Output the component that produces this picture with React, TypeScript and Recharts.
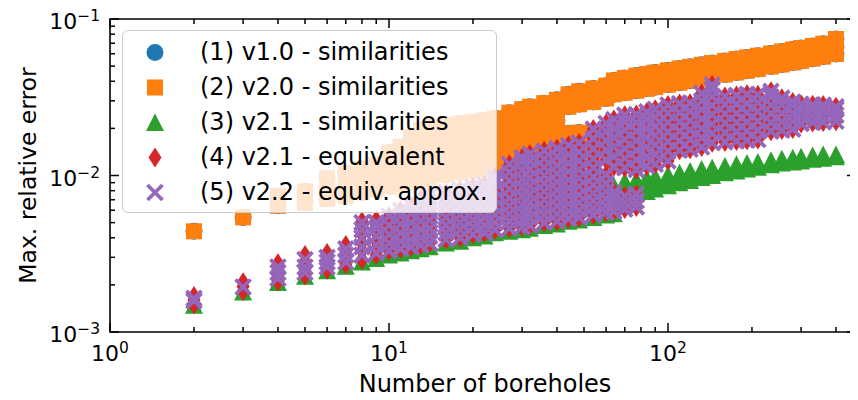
import React from "react";
import { ScatterChart, Scatter, XAxis, YAxis, Legend, ReferenceArea } from "recharts";

type Col = [number, number[]];
type Kind = "circle" | "square" | "triangle" | "diamond" | "cross";

// max. relative error, one column per number of boreholes
const simV20: Col[] = [
  [2, [0.0044]],
  [3, [0.0054]],
  [4, [0.0064, 0.0074]],
  [5, [0.0067, 0.0079]],
  [6, [0.0071, 0.0084, 0.0096]],
  [7, [0.0074, 0.0088, 0.0103]],
  [8, [0.0078, 0.0093, 0.011]],
  [9, [0.0081, 0.0097, 0.0117]],
  [10, [0.0085, 0.0102, 0.0122, 0.014]],
  [11, [0.0088, 0.0106, 0.0127, 0.0152]],
  [12, [0.0091, 0.011, 0.0132, 0.0158, 0.0175]],
  [13, [0.0094, 0.0113, 0.0136, 0.0163, 0.0195]],
  [14, [0.0097, 0.0116, 0.014, 0.0168, 0.0205]],
  [16, [0.0101, 0.0121, 0.0145, 0.0174, 0.021]],
  [18, [0.0105, 0.0125, 0.015, 0.018, 0.0215]],
  [20, [0.0108, 0.0129, 0.0155, 0.0186, 0.022]],
  [22, [0.0111, 0.0133, 0.016, 0.019, 0.0225]],
  [24, [0.0114, 0.0136, 0.0163, 0.0195, 0.0232]],
  [27, [0.0118, 0.014, 0.0168, 0.02, 0.0238, 0.0252]],
  [30, [0.0122, 0.0145, 0.0173, 0.0206, 0.0245, 0.0265]],
  [32, [0.0125, 0.0148, 0.0177, 0.021, 0.025, 0.0275]],
  [36, [0.013, 0.0154, 0.0183, 0.0217, 0.0257, 0.029]],
  [40, [0.0135, 0.016, 0.019, 0.0224, 0.0265, 0.0305]],
  [44, [0.014, 0.0162, 0.0186, 0.0275, 0.033]],
  [48, [0.0145, 0.0167, 0.0188, 0.0285, 0.0345]],
  [54, [0.015, 0.0172, 0.0188, 0.0295, 0.036]],
  [60, [0.0155, 0.0175, 0.0188, 0.031, 0.0375]],
  [64, [0.033, 0.0365, 0.0405]],
  [70, [0.0338, 0.038, 0.042]],
  [77, [0.0348, 0.039, 0.0435]],
  [84, [0.0358, 0.04, 0.0445]],
  [90, [0.0367, 0.041, 0.0455]],
  [100, [0.038, 0.0423, 0.047]],
  [110, [0.0392, 0.0436, 0.0483]],
  [120, [0.0403, 0.0448, 0.0495]],
  [132, [0.0415, 0.046, 0.051]],
  [144, [0.0427, 0.0473, 0.0523]],
  [160, [0.0442, 0.0488, 0.054]],
  [176, [0.0455, 0.0502, 0.0555]],
  [192, [0.0467, 0.0515, 0.0568]],
  [210, [0.048, 0.053, 0.0583]],
  [234, [0.0497, 0.0547, 0.0602]],
  [256, [0.0512, 0.0563, 0.062]],
  [280, [0.0527, 0.058, 0.0638]],
  [300, [0.054, 0.0593, 0.0652]],
  [330, [0.0558, 0.0612, 0.0673]],
  [360, [0.0575, 0.063, 0.0695]],
  [400, [0.0598, 0.066, 0.0745]],
];

// v1.0 gives the same errors as v2.0 (blue sits under the orange squares)
const simV10: Col[] = simV20;

const simV21: Col[] = [
  [2, [0.00148]],
  [3, [0.0018]],
  [4, [0.00207]],
  [5, [0.00227]],
  [6, [0.00246]],
  [7, [0.00263]],
  [8, [0.0028]],
  [9, [0.00295]],
  [10, [0.0031]],
  [11, [0.0032]],
  [12, [0.0033]],
  [13, [0.0034]],
  [14, [0.0035]],
  [16, [0.0037]],
  [18, [0.0038]],
  [20, [0.004]],
  [22, [0.0041]],
  [24, [0.0043]],
  [27, [0.0044]],
  [30, [0.0045]],
  [32, [0.0046]],
  [36, [0.0048]],
  [40, [0.0049]],
  [44, [0.0051]],
  [48, [0.0052]],
  [54, [0.0054]],
  [60, [0.0056, 0.0078]],
  [64, [0.0057, 0.0077, 0.0086]],
  [70, [0.0076, 0.0085, 0.0092]],
  [77, [0.0077, 0.0087, 0.0094]],
  [84, [0.0079, 0.0089, 0.0096]],
  [90, [0.0082, 0.0091, 0.0098]],
  [100, [0.0086, 0.0094, 0.0101]],
  [110, [0.009, 0.0098, 0.0104]],
  [120, [0.0093, 0.0101, 0.0107]],
  [132, [0.0097, 0.0104, 0.011]],
  [144, [0.01, 0.0107, 0.0112]],
  [160, [0.0104, 0.011, 0.0115]],
  [176, [0.0107, 0.0113, 0.0118]],
  [192, [0.011, 0.0116, 0.012]],
  [210, [0.0113, 0.0118, 0.0122]],
  [234, [0.0117, 0.0121, 0.0125]],
  [256, [0.012, 0.0124, 0.0128]],
  [280, [0.0122, 0.0127, 0.013]],
  [300, [0.0124, 0.0129, 0.0132]],
  [330, [0.0127, 0.0131, 0.0134]],
  [360, [0.0129, 0.0133, 0.0136]],
  [400, [0.0132, 0.0136]],
];

const equivSmall: Col[] = [
  [2, [0.0015, 0.0016, 0.0017]],
  [3, [0.00182, 0.00195, 0.00208]],
  [4, [0.0021, 0.0023, 0.0025, 0.00275]],
  [5, [0.0023, 0.0025, 0.0028, 0.0031]],
  [6, [0.0025, 0.0027, 0.0029, 0.0032]],
  [7, [0.0027, 0.0029, 0.0032, 0.0036]],
  [8, [0.0029, 0.0033, 0.0037, 0.0042, 0.0047, 0.0051]],
  [9, [0.0031, 0.0034, 0.0038, 0.0043, 0.0048, 0.0052]],
];

const approxSmall: Col[] = [
  [2, [0.00158, 0.00164]],
  [3, [0.00194]],
  [4, [0.0022, 0.0024, 0.0026]],
  [5, [0.0024, 0.0026, 0.0029]],
  [6, [0.0026, 0.0028, 0.003]],
  [7, [0.0028, 0.0031, 0.0034]],
  [8, [0.0031, 0.0035, 0.004, 0.0045, 0.005]],
  [9, [0.0032, 0.0036, 0.0041, 0.0046, 0.005]],
];

// N >= 10: equivalent and equiv. approx. overlap almost exactly
const equivCloud: Col[] = [
  [10, [0.0033, 0.0037, 0.0042, 0.0048, 0.0055]],
  [11, [0.0034, 0.0038, 0.0043, 0.0049, 0.0055, 0.006]],
  [12, [0.0035, 0.0039, 0.0044, 0.005, 0.0057, 0.0064]],
  [13, [0.0036, 0.004, 0.0045, 0.0051, 0.0058, 0.0066, 0.0071]],
  [14, [0.0037, 0.0041, 0.0046, 0.0052, 0.0059, 0.0067, 0.0074]],
  [16, [0.0039, 0.0043, 0.0048, 0.0054, 0.0061, 0.0069, 0.0078]],
  [18, [0.004, 0.0045, 0.005, 0.0056, 0.0063, 0.0071, 0.0081]],
  [20, [0.0042, 0.0047, 0.0052, 0.0058, 0.0065, 0.0074, 0.0085]],
  [22, [0.0043, 0.0048, 0.0054, 0.006, 0.0068, 0.0077, 0.0088]],
  [24, [0.0045, 0.005, 0.0056, 0.0063, 0.0071, 0.008, 0.0091, 0.0098]],
  [27, [0.0046, 0.0051, 0.0057, 0.0064, 0.0072, 0.0082, 0.0093, 0.0105, 0.0118]],
  [30, [0.0047, 0.0052, 0.0058, 0.0065, 0.0074, 0.0084, 0.0095, 0.0108, 0.0122, 0.013]],
  [32, [0.0048, 0.0054, 0.006, 0.0067, 0.0076, 0.0086, 0.0097, 0.011, 0.0124, 0.0137]],
  [36, [0.005, 0.0056, 0.0062, 0.007, 0.0079, 0.0089, 0.01, 0.0113, 0.0128, 0.0144]],
  [40, [0.0051, 0.0057, 0.0064, 0.0072, 0.0081, 0.0091, 0.0103, 0.0116, 0.0132, 0.0149]],
  [44, [0.0053, 0.0059, 0.0066, 0.0074, 0.0083, 0.0094, 0.0106, 0.012, 0.0136, 0.0156]],
  [48, [0.0054, 0.006, 0.0067, 0.0075, 0.0085, 0.0096, 0.0109, 0.0124, 0.0141, 0.0162]],
  [54, [0.0056, 0.0062, 0.0069, 0.0077, 0.0087, 0.0098, 0.0112, 0.0128, 0.0148, 0.0172, 0.0198]],
  [60, [0.0058, 0.0064, 0.0071, 0.0079, 0.0089, 0.0101, 0.0126, 0.0146, 0.0168, 0.0192, 0.0215]],
  [64, [0.0059, 0.0065, 0.0072, 0.0078, 0.0114, 0.0132, 0.0152, 0.0175, 0.02, 0.0228]],
  [70, [0.0061, 0.0067, 0.0074, 0.0112, 0.0129, 0.0148, 0.017, 0.0195, 0.022, 0.0243]],
  [77, [0.0063, 0.0069, 0.0076, 0.0109, 0.0126, 0.0145, 0.0167, 0.0192, 0.0218, 0.0245]],
  [84, [0.0115, 0.0132, 0.0152, 0.0175, 0.02, 0.0228, 0.0255]],
  [90, [0.0118, 0.0136, 0.0157, 0.018, 0.0206, 0.0235, 0.0265]],
  [100, [0.0124, 0.0143, 0.0165, 0.019, 0.0218, 0.025, 0.0282]],
  [110, [0.0145, 0.0167, 0.0192, 0.022, 0.0252, 0.0288]],
  [120, [0.0147, 0.017, 0.0195, 0.0224, 0.0257, 0.029]],
  [132, [0.0152, 0.0175, 0.02, 0.023, 0.0264, 0.03, 0.0335]],
  [144, [0.0162, 0.0186, 0.0213, 0.0245, 0.028, 0.032, 0.0355, 0.038]],
  [160, [0.0164, 0.0188, 0.0216, 0.0248, 0.0284, 0.032]],
  [176, [0.0166, 0.019, 0.0218, 0.025, 0.0286, 0.0325]],
  [192, [0.0168, 0.0192, 0.022, 0.0252, 0.0288, 0.033]],
  [210, [0.017, 0.0195, 0.0223, 0.0256, 0.0292, 0.0328]],
  [234, [0.0192, 0.0218, 0.0248, 0.0282, 0.0318, 0.0345]],
  [256, [0.0195, 0.022, 0.025, 0.0283, 0.0312]],
  [280, [0.0198, 0.0222, 0.025, 0.028, 0.0295]],
  [300, [0.0215, 0.0238, 0.0262, 0.0285]],
  [330, [0.0218, 0.024, 0.0263, 0.0283]],
  [360, [0.022, 0.0242, 0.0264, 0.0282]],
  [400, [0.0222, 0.0243, 0.0265, 0.0275]],
];

const xTicks = [1, 2, 3, 4, 5, 6, 7, 8, 9, 10, 20, 30, 40, 50, 60, 70, 80, 90, 100, 200, 300, 400];
const yTicks = [
  0.001, 0.002, 0.003, 0.004, 0.005, 0.006, 0.007, 0.008, 0.009,
  0.01, 0.02, 0.03, 0.04, 0.05, 0.06, 0.07, 0.08, 0.09, 0.1,
];

const X_MAX = 472;
const FONT = "'DejaVu Sans', sans-serif";

// layout (chart coordinates)
const W = 850;
const H = 392;
const PLOT_LEFT = 102;
const PLOT_RIGHT = 848;
const PLOT_TOP = 11;
const PLOT_BOTTOM = 324;

const toPoints = (cols: Col[]) => cols.flatMap(([n, errs]) => errs.map((err) => ({ n, err })));

const series: { name: string; cols: Col[]; color: string; kind: Kind }[] = [
  { name: "(1) v1.0 - similarities", cols: simV10, color: "#1f77b4", kind: "circle" },
  { name: "(2) v2.0 - similarities", cols: simV20, color: "#ff7f0e", kind: "square" },
  { name: "(3) v2.1 - similarities", cols: simV21, color: "#2ca02c", kind: "triangle" },
  { name: "(4) v2.1 - equivalent", cols: [...equivSmall, ...equivCloud], color: "#d62728", kind: "diamond" },
  { name: "(5) v2.2 - equiv. approx.", cols: [...approxSmall, ...equivCloud], color: "#9467bd", kind: "cross" },
];

const marker = (kind: Kind, cx: number, cy: number, color: string) => {
  switch (kind) {
    case "circle":
      return <circle cx={cx} cy={cy} r={8.5} fill={color} />;
    case "square":
      return <rect x={cx - 8} y={cy - 8} width={16} height={16} fill={color} />;
    case "triangle":
      return <polygon points={`${cx},${cy - 9} ${cx - 9},${cy + 8.5} ${cx + 9},${cy + 8.5}`} fill={color} />;
    case "diamond":
      return <polygon points={`${cx},${cy - 10} ${cx + 6.5},${cy} ${cx},${cy + 10} ${cx - 6.5},${cy}`} fill={color} />;
    default:
      return (
        <path
          d={`M${cx - 7.5},${cy - 7.5}L${cx + 7.5},${cy + 7.5}M${cx - 7.5},${cy + 7.5}L${cx + 7.5},${cy - 7.5}`}
          stroke={color}
          strokeWidth={3.7}
          fill="none"
        />
      );
  }
};

const isMajor = (v: number) => Math.abs(Math.log10(v) - Math.round(Math.log10(v))) < 1e-9;

const XTick = (props: any) => {
  const { x, payload } = props;
  const v = payload.value;
  const major = isMajor(v);
  const len = major ? 9 : 5;
  return (
    <g>
      <line x1={x} x2={x} y1={PLOT_BOTTOM} y2={PLOT_BOTTOM - len} stroke="#000" strokeWidth={1.5} />
      <line x1={x} x2={x} y1={PLOT_TOP} y2={PLOT_TOP + len} stroke="#000" strokeWidth={1.5} />
      {major && (
        <text x={x} y={PLOT_BOTTOM + 29} textAnchor="middle" fontSize={22} fontFamily={FONT} fill="#000">
          10
          <tspan dy={-8} fontSize={15.5}>
            {Math.round(Math.log10(v))}
          </tspan>
        </text>
      )}
    </g>
  );
};

const YTick = (props: any) => {
  const { y, payload } = props;
  const v = payload.value;
  const major = isMajor(v);
  const len = major ? 9 : 5;
  return (
    <g>
      <line x1={PLOT_LEFT} x2={PLOT_LEFT + len} y1={y} y2={y} stroke="#000" strokeWidth={1.5} />
      <line x1={PLOT_RIGHT} x2={PLOT_RIGHT - len} y1={y} y2={y} stroke="#000" strokeWidth={1.5} />
      {major && (
        <text x={PLOT_LEFT - 10} y={y + 10} textAnchor="end" fontSize={22} fontFamily={FONT} fill="#000">
          10
          <tspan dy={-8} fontSize={15.5}>
            {"\u2212" + Math.round(-Math.log10(v))}
          </tspan>
        </text>
      )}
    </g>
  );
};

const LegendBox = () => (
  <div
    style={{
      position: "relative",
      width: "100%",
      height: "100%",
      boxSizing: "border-box",
      border: "1.5px solid #cccccc",
      borderRadius: 6,
      background: "rgba(255,255,255,0.8)",
      fontFamily: FONT,
      fontSize: 24,
      color: "#000",
    }}
  >
    {series.map((s, i) => (
      <div key={s.name} style={{ position: "absolute", left: 0, top: 4 + i * 35, height: 35, width: "100%" }}>
        <svg width={30} height={35} style={{ position: "absolute", left: 17, top: 0 }}>
          {marker(s.kind, 15, 17.5, s.color)}
        </svg>
        <span style={{ position: "absolute", left: 77, top: 0, lineHeight: "35px", whiteSpace: "nowrap" }}>{s.name}</span>
      </div>
    ))}
  </div>
);

export default function App() {
  return (
    <ScatterChart width={W} height={H} margin={{ top: PLOT_TOP, right: W - PLOT_RIGHT, bottom: 0, left: 0 }}>
      <XAxis
        type="number"
        dataKey="n"
        scale="log"
        domain={[1, X_MAX]}
        allowDataOverflow
        ticks={xTicks}
        interval={0}
        tick={XTick}
        tickLine={false}
        axisLine={false}
        tickSize={0}
        tickMargin={0}
        height={H - PLOT_BOTTOM}
        label={{
          content: () => (
            <text x={(PLOT_LEFT + PLOT_RIGHT) / 2 + 2} y={384} textAnchor="middle" fontSize={24} fontFamily={FONT} fill="#000">
              Number of boreholes
            </text>
          ),
        }}
      />
      <YAxis
        type="number"
        dataKey="err"
        scale="log"
        domain={[0.001, 0.1]}
        allowDataOverflow
        ticks={yTicks}
        interval={0}
        tick={YTick}
        tickLine={false}
        axisLine={false}
        tickSize={0}
        tickMargin={0}
        width={PLOT_LEFT}
        label={{
          content: () => (
            <text
              x={28}
              y={(PLOT_TOP + PLOT_BOTTOM) / 2}
              transform={`rotate(-90, 28, ${(PLOT_TOP + PLOT_BOTTOM) / 2})`}
              textAnchor="middle"
              fontSize={23.5}
              fontFamily={FONT}
              fill="#000"
            >
              Max. relative error
            </text>
          ),
        }}
      />
      {series.map((s) => (
        <Scatter
          key={s.name}
          name={s.name}
          data={toPoints(s.cols)}
          fill={s.color}
          isAnimationActive={false}
          shape={(p: any) => marker(s.kind, p.cx, p.cy, s.color)}
        />
      ))}
      <ReferenceArea x1={1} x2={X_MAX} y1={0.001} y2={0.1} fill="none" stroke="#000" strokeWidth={1.6} />
      <Legend
        layout="vertical"
        align="center"
        verticalAlign="middle"
        wrapperStyle={{ position: "absolute", left: 114, top: 22, width: 375, height: 183 }}
        content={() => <LegendBox />}
      />
    </ScatterChart>
  );
}
